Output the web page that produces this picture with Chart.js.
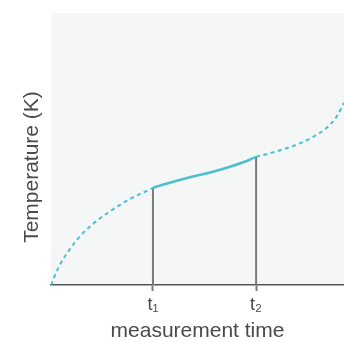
<!DOCTYPE html>
<html>
<head>
<meta charset="utf-8">
<script src="https://cdn.jsdelivr.net/npm/chart.js@4"></script>
<style>
  html, body { margin: 0; padding: 0; background: #ffffff; }
  #wrap { width: 344px; height: 342px; position: relative; }
</style>
</head>
<body>
<div id="wrap"><canvas id="chart"></canvas></div>
<script>
// curve (time 0..100, temperature 0..100)
const timeValues = [0, 2.4, 5.8, 10.3, 16.0, 21.7, 27.4, 33.1, 34.8,
    40.6, 47.4, 54.3, 61.1, 66.8, 70.0,
    73.6, 79.3, 85.0, 89.5, 94.1, 97.5, 100];
const tempValues = [0, 6.1, 12.2, 18.4, 23.9, 28.2, 31.9, 34.8, 35.7,
    37.6, 39.6, 41.4, 43.5, 45.6, 47.1,
    48.1, 49.9, 52.1, 54.5, 57.8, 61.9, 67.0];
const markTimes = [34.8, 70.0];
const markTemps = [35.7, 47.1];
const tickLabels = ['t\u2081', 't\u2082'];

const curveColor = '#4dbfcf';
const markColor = '#7a7a7a';
const textColor = '#4a4a4a';

const inMeasured = (ctx) => ctx.p0.parsed.x >= markTimes[0] - 0.01 && ctx.p1.parsed.x <= markTimes[1] + 0.01;

const datasets = [{
    data: timeValues.map((t, i) => ({ x: t, y: tempValues[i] })),
    borderColor: curveColor,
    borderWidth: 2,
    pointRadius: 0,
    cubicInterpolationMode: 'monotone',
    segment: {
        borderDash: ctx => inMeasured(ctx) ? [] : [4, 3.5],
        borderWidth: ctx => inMeasured(ctx) ? 2.6 : 2
    },
    order: 0
}];

markTimes.forEach((t, i) => {
    datasets.push({
        data: [{ x: t, y: 0 }, { x: t, y: markTemps[i] }],
        borderColor: markColor,
        borderWidth: 2,
        pointRadius: 0,
        order: 1
    });
});

const plotBackground = {
    id: 'plotBackground',
    beforeDraw(chart) {
        const { ctx, chartArea } = chart;
        ctx.save();
        ctx.fillStyle = '#f5f7f7';
        ctx.fillRect(chartArea.left, chartArea.top, chartArea.right - chartArea.left, chartArea.bottom - chartArea.top);
        ctx.restore();
    }
};

// y title sits a little below the middle of the plot, so it is drawn by hand
const yTitle = {
    id: 'yTitle',
    afterDraw(chart) {
        const ctx = chart.ctx;
        ctx.save();
        ctx.translate(32, 167);
        ctx.rotate(-Math.PI / 2);
        ctx.font = '21px "Liberation Sans", Arial, sans-serif';
        ctx.fillStyle = textColor;
        ctx.textAlign = 'center';
        ctx.textBaseline = 'middle';
        ctx.fillText('Temperature (K)', 0, 0);
        ctx.restore();
    }
};

new Chart(document.getElementById('chart'), {
    type: 'line',
    data: { datasets },
    options: {
        responsive: true,
        maintainAspectRatio: false,
        animation: false,
        events: [],
        layout: { padding: { left: 51, top: 13, right: 0, bottom: 0 } },
        plugins: {
            legend: { display: false },
            tooltip: { enabled: false }
        },
        scales: {
            x: {
                type: 'linear',
                min: 0,
                max: 100,
                afterFit: (scale) => { scale.height = 57; },
                afterBuildTicks: (scale) => {
                    scale.ticks = markTimes.map(v => ({ value: v }));
                },
                grid: {
                    drawOnChartArea: false,
                    drawTicks: true,
                    tickLength: 6,
                    tickWidth: 2,
                    tickColor: markColor
                },
                border: { color: '#555555', width: 1.5 },
                ticks: {
                    autoSkip: false,
                    maxRotation: 0,
                    padding: 3,
                    color: textColor,
                    font: { family: '"Liberation Sans", Arial, sans-serif', size: 18 },
                    callback: (value, index) => tickLabels[index]
                },
                title: {
                    display: true,
                    text: 'measurement time',
                    color: textColor,
                    padding: { top: 0, bottom: 0 },
                    font: { family: '"Liberation Sans", Arial, sans-serif', size: 21, lineHeight: 1 }
                }
            },
            y: {
                display: false,
                min: 0,
                max: 100
            }
        }
    },
    plugins: [plotBackground, yTitle]
});
</script>
</body>
</html>
